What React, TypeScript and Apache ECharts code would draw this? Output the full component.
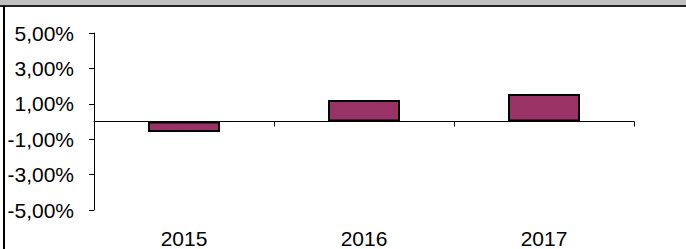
import React, { useEffect, useRef } from "react";
import * as echarts from "echarts";

const categories = ["2015", "2016", "2017"];
const values = [-0.6, 1.22, 1.56];
const yMin = -5;
const yMax = 5;
const yStep = 2;

export default function App() {
  const ref = useRef<HTMLDivElement>(null);
  useEffect(() => {
    if (!ref.current) return;
    const chart = echarts.init(ref.current, null, { renderer: "svg" });
    const font = "'Liberation Sans', Arial, sans-serif";
    chart.setOption({
      animation: false,
      backgroundColor: "#ffffff",
      grid: { left: 94, right: 52, top: 33, bottom: 38 },
      graphic: [
        { type: "rect", left: 0, top: 0, shape: { width: 686, height: 5 }, style: { fill: "#c0c0c0" }, silent: true },
        { type: "rect", left: 0, top: 5, shape: { width: 686, height: 2 }, style: { fill: "#222222" }, silent: true },
        { type: "rect", left: 3, top: 6, shape: { width: 2, height: 243 }, style: { fill: "#000000" }, silent: true },
      ],
      xAxis: [
        {
          type: "category",
          data: categories,
          position: "bottom",
          axisLine: { show: false, onZero: false },
          axisTick: { show: false },
          axisLabel: { color: "#000", fontSize: 21, fontFamily: font, margin: 18 },
          splitLine: { show: false },
        },
        {
          type: "category",
          data: categories,
          position: "bottom",
          axisLine: { show: true, onZero: true, lineStyle: { color: "#000", width: 1 } },
          axisTick: { show: true, length: 5, alignWithLabel: false, lineStyle: { color: "#000" } },
          axisLabel: { show: false },
          splitLine: { show: false },
        },
      ],
      yAxis: {
        type: "value",
        min: yMin,
        max: yMax,
        interval: yStep,
        axisLine: { show: true, lineStyle: { color: "#000", width: 1 } },
        axisTick: { show: true, length: 5, lineStyle: { color: "#000" } },
        splitLine: { show: false },
        axisLabel: {
          color: "#000",
          fontSize: 21,
          fontFamily: font,
          margin: 20,
          formatter: (v: number) => v.toFixed(2).replace(".", ",") + "%",
        },
      },
      series: [
        {
          type: "bar",
          xAxisIndex: 0,
          data: values,
          barWidth: 72,
          itemStyle: { color: "#993366", borderColor: "#000", borderWidth: 2 },
        },
      ],
    });
    return () => chart.dispose();
  }, []);
  return (
    <div
      ref={ref}
      style={{ position: "fixed", left: 0, top: 0, width: 686, height: 249 }}
    />
  );
}
